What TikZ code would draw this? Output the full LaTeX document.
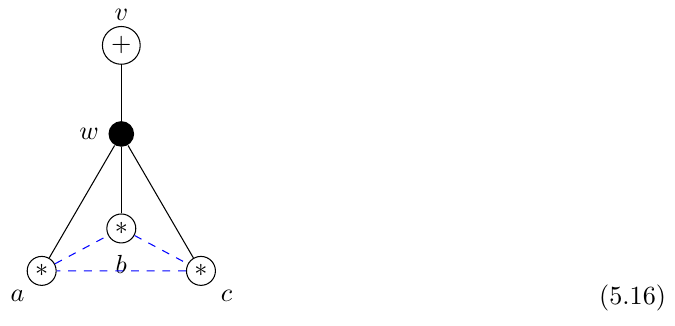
\documentclass[tikz,border=0pt]{standalone}
\usepackage{tikz}
\usetikzlibrary{calc, arrows.meta}
\usetikzlibrary{positioning}
\usepackage{amsmath,amssymb}

\tikzset{
  vtx/.style={circle, draw, inner sep=1.5pt},
  blackdot/.style={circle, fill, inner sep=0pt, minimum size=9.8pt},
  bond/.style={blue, dashed}
}

\begin{document}
\begin{tikzpicture}
            \useasboundingbox (0,0) rectangle (9.07,4.37); %余白
            \node[vtx, label={[yshift=-1.5pt]above:$v$}] (v) at (1.63,3.76) {$+$}; %頂点v
            \node[blackdot, label=left:$w$] (w) at (1.63,2.57) {}; %頂点w
            \node[vtx, label={[yshift=-1pt]below:$b$}] (b) at (1.63,1.30) {$\ast$};
            \node[vtx, label={[xshift=1pt,yshift=0pt]below left:$a$}] (a) at (0.56,0.73) {$\ast$};
            \node[vtx, label={[xshift=0pt,yshift=0pt]below right:$c$}] (c) at (2.70,0.73) {$\ast$};
            \draw (v) --(w);
            \draw (w) --(a);
            \draw (w) --(b);
            \draw (w) --(c);
            \draw[bond] (a) --(b) --(c) --(a); %破線
            \node (eq) at (8.50,0.36) {(5.16)}; %式番号
        \end{tikzpicture}
\end{document}
